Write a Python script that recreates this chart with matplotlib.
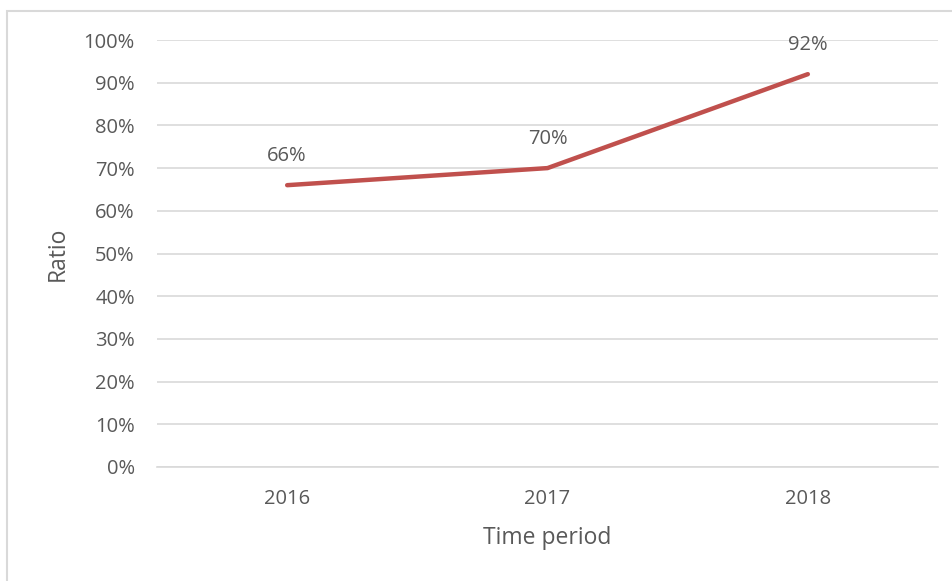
import matplotlib
matplotlib.use("Agg")
import matplotlib.pyplot as plt
from matplotlib.patches import Rectangle
from matplotlib.ticker import PercentFormatter

years = ["2016", "2017", "2018"]
ratio = [0.66, 0.70, 0.92]
labels = ["66%", "70%", "92%"]

plt.rcParams["font.family"] = ["Open Sans", "DejaVu Sans"]
txt = "#595959"
grid = "#D9D9D9"

fig = plt.figure(figsize=(9.52, 5.81), dpi=100)
ax = fig.add_axes([157/952, 1 - 467/581, (938 - 157)/952, (467 - 40)/581])

x = range(len(years))
ax.plot(x, ratio, color="#C0504D", lw=3.2, solid_capstyle="round", zorder=3)
for xi, v, lab in zip(x, ratio, labels):
    ax.annotate(lab, (xi, v), xytext=(0, 14), textcoords="offset points",
                ha="center", va="bottom", fontsize=14.5, color=txt)

ax.set_xlim(-0.5, 2.5)
ax.set_ylim(0, 1.0)
ax.set_yticks([i / 10 for i in range(11)])
ax.yaxis.set_major_formatter(PercentFormatter(1.0, decimals=0))
ax.set_xticks(list(x))
ax.set_xticklabels(years)
ax.grid(axis="y", color=grid, lw=1.2)
ax.set_axisbelow(True)
for s in ["top", "right", "left"]:
    ax.spines[s].set_visible(False)
ax.spines["bottom"].set_color(grid)
ax.spines["bottom"].set_linewidth(1.2)
ax.tick_params(length=0, labelsize=14.5, labelcolor=txt)
ax.tick_params(axis="y", pad=16)
ax.tick_params(axis="x", pad=16)

ax.set_xlabel("Time period", fontsize=16.5, color=txt, labelpad=12)
ax.set_ylabel("Ratio", fontsize=16.5, color=txt, labelpad=10)

fig.patches.append(Rectangle((7/952, -0.1), 1.2, 1 - 11/581 + 0.1,
                             transform=fig.transFigure, fill=False,
                             edgecolor=grid, lw=1.5))

fig.savefig("out.png", dpi=100)
